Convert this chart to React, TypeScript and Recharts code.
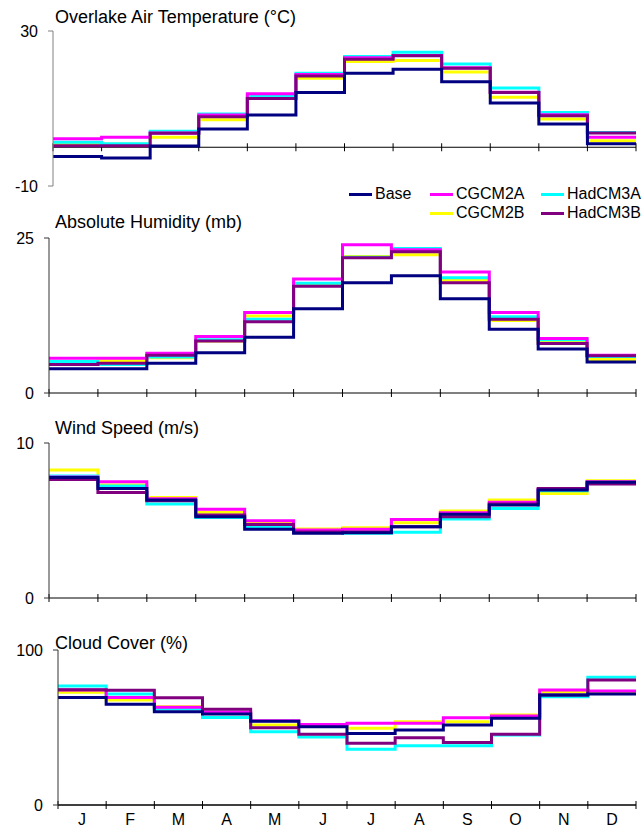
import React from 'react'
import { LineChart, Line, XAxis, YAxis, ReferenceLine } from 'recharts'

const months = ['J', 'F', 'M', 'A', 'M', 'J', 'J', 'A', 'S', 'O', 'N', 'D']

// draw order: later ones sit on top
const seriesKeys = ['CGCM2B', 'HadCM3A', 'CGCM2A', 'HadCM3B', 'Base']
const colors: Record<string, string> = {
  Base: '#000080',
  CGCM2A: '#ff00ff',
  CGCM2B: '#ffff00',
  HadCM3A: '#00ffff',
  HadCM3B: '#800080',
}

// Overlake air temperature (°C)
const tempBase = [-2.4, -2.8, 0.3, 4.7, 8.3, 14.1, 19.1, 20.1, 16.9, 11.4, 6.0, 0.9]
const tempCGCM2A = [2.2, 2.6, 3.7, 8.3, 13.8, 18.8, 23.1, 23.7, 20.5, 14.2, 8.4, 2.6]
const tempCGCM2B = [0.9, 0.8, 2.6, 7.1, 12.6, 17.8, 22.1, 22.4, 19.4, 12.9, 7.3, 1.7]
const tempHadCM3A = [1.3, 0.9, 4.1, 8.6, 13.3, 19.1, 23.4, 24.5, 21.5, 15.3, 9.0, 3.8]
const tempHadCM3B = [0.4, 0.4, 3.6, 7.9, 12.6, 18.4, 22.7, 23.6, 20.4, 14.1, 8.1, 3.7]

// absolute humidity (mb)
const humBase = [3.9, 3.9, 4.8, 6.5, 9.0, 13.6, 17.8, 18.9, 15.2, 10.3, 7.1, 5.0]
const humCGCM2A = [5.6, 5.6, 6.4, 9.1, 13.0, 18.4, 23.9, 23.1, 19.5, 13.0, 8.8, 6.1]
const humCGCM2B = [5.0, 5.2, 5.7, 8.4, 12.4, 17.6, 22.0, 22.3, 18.2, 11.7, 8.2, 5.4]
const humHadCM3A = [5.1, 4.6, 5.8, 8.6, 11.9, 17.7, 21.9, 23.3, 18.6, 12.3, 8.6, 5.9]
const humHadCM3B = [4.6, 4.8, 6.1, 8.4, 11.5, 17.2, 21.8, 22.8, 17.8, 11.9, 8.0, 6.0]

// wind speed (m/s)
const windBase = [7.78, 7.07, 6.32, 5.25, 4.43, 4.17, 4.21, 4.6, 5.4, 6.0, 6.97, 7.46]
const windCGCM2A = [7.8, 7.5, 6.4, 5.72, 4.99, 4.39, 4.43, 5.07, 5.5, 6.17, 7.0, 7.5]
const windCGCM2B = [8.26, 7.29, 6.49, 5.53, 4.86, 4.45, 4.54, 4.86, 5.61, 6.32, 6.75, 7.57]
const windHadCM3A = [7.87, 7.22, 6.06, 5.2, 4.6, 4.32, 4.17, 4.24, 5.1, 5.78, 6.92, 7.46]
const windHadCM3B = [7.65, 6.8, 6.28, 5.35, 4.75, 4.26, 4.26, 4.6, 5.25, 6.06, 7.07, 7.35]

// cloud cover (%)
const cloudBase = [69.4, 65.0, 60.2, 58.7, 54.0, 50.5, 46.2, 48.4, 51.6, 55.9, 70.9, 71.6]
const cloudCGCM2A = [74.2, 69.4, 63.0, 59.8, 54.4, 52.0, 52.7, 52.7, 56.3, 57.4, 74.2, 73.5]
const cloudCGCM2B = [72.7, 67.7, 63.4, 59.0, 51.6, 51.0, 49.5, 53.7, 53.7, 58.0, 73.1, 72.9]
const cloudHadCM3A = [76.7, 71.6, 62.0, 56.5, 47.3, 43.9, 35.9, 38.3, 38.3, 45.2, 69.9, 82.4]
const cloudHadCM3B = [74.4, 74.0, 69.2, 61.7, 49.9, 45.6, 39.8, 43.4, 40.4, 45.6, 70.9, 80.7]

const W = 644
const H = 829
const PLOT_H = 155
const RIGHT = 636
const font = '"Liberation Sans", Arial, sans-serif'

const panels = [
  {
    title: 'Overlake Air Temperature (°C)',
    min: -10, max: 30, top: 31, axisX: 53, titleTop: 8, yAxisColor: '#808080', labels: false,
    values: { Base: tempBase, CGCM2A: tempCGCM2A, CGCM2B: tempCGCM2B, HadCM3A: tempHadCM3A, HadCM3B: tempHadCM3B },
  },
  {
    title: 'Absolute Humidity (mb)',
    min: 0, max: 25, top: 238, axisX: 49, titleTop: 213, yAxisColor: '#333', labels: false,
    values: { Base: humBase, CGCM2A: humCGCM2A, CGCM2B: humCGCM2B, HadCM3A: humHadCM3A, HadCM3B: humHadCM3B },
  },
  {
    title: 'Wind Speed (m/s)',
    min: 0, max: 10, top: 443, axisX: 49, titleTop: 419, yAxisColor: '#333', labels: false,
    values: { Base: windBase, CGCM2A: windCGCM2A, CGCM2B: windCGCM2B, HadCM3A: windHadCM3A, HadCM3B: windHadCM3B },
  },
  {
    title: 'Cloud Cover (%)',
    min: 0, max: 100, top: 650, axisX: 58, titleTop: 634, yAxisColor: '#333', labels: true,
    values: { Base: cloudBase, CGCM2A: cloudCGCM2A, CGCM2B: cloudCGCM2B, HadCM3A: cloudHadCM3A, HadCM3B: cloudHadCM3B },
  },
]

const boundaries = months.map((_, i) => i).concat([months.length])
const centers = months.map((_, i) => i + 0.5)

// one row per month boundary, the last one repeats December so the step reaches the end
function buildRows(values: Record<string, number[]>) {
  return boundaries.map((b) => {
    const row: any = { x: b }
    seriesKeys.forEach((k) => {
      row[k] = values[k][Math.min(b, months.length - 1)]
    })
    return row
  })
}

const legendRows = [
  [
    { key: 'Base', line: 349 },
    { key: 'CGCM2A', line: 430 },
    { key: 'HadCM3A', line: 541 },
  ],
  [
    { key: 'CGCM2B', line: 430 },
    { key: 'HadCM3B', line: 541 },
  ],
]
const legendTops = [186, 205]

const Panel = ({ p }: { p: any }) => {
  const data = buildRows(p.values)
  const half = (4 / PLOT_H) * (p.max - p.min)
  const axisVal = p.min < 0 ? 0 : p.min
  const xAxisH = p.labels ? 20 : 0
  return (
    <div style={{ position: 'absolute', left: 0, top: 0 }}>
      <LineChart
        width={W}
        height={H}
        data={data}
        margin={{ top: p.top, right: W - RIGHT, left: 0, bottom: H - p.top - PLOT_H - xAxisH }}
      >
        <XAxis
          dataKey="x"
          type="number"
          domain={[0, 12]}
          ticks={centers}
          interval={0}
          hide={!p.labels}
          height={xAxisH}
          tickLine={false}
          tickSize={6}
          tickMargin={3}
          axisLine={{ stroke: '#000' }}
          tick={{ fill: '#000', fontSize: 16, fontFamily: font }}
          tickFormatter={(v: number) => months[Math.floor(v)]}
        />
        <YAxis
          type="number"
          domain={[p.min, p.max]}
          ticks={[p.min, p.max]}
          interval={0}
          allowDataOverflow
          width={p.axisX}
          tickSize={5}
          tickMargin={10}
          axisLine={{ stroke: p.yAxisColor }}
          tickLine={{ stroke: p.yAxisColor }}
          tick={{ fill: '#000', fontSize: 16, fontFamily: font }}
        />
        <ReferenceLine y={axisVal} stroke="#000" ifOverflow="visible" />
        {boundaries.map((b) => (
          <ReferenceLine
            key={'t' + b}
            segment={[{ x: b, y: axisVal - half }, { x: b, y: axisVal + half }]}
            stroke="#000"
            ifOverflow="visible"
          />
        ))}
        {seriesKeys.map((k) => (
          <Line
            key={k}
            type="stepAfter"
            dataKey={k}
            stroke={colors[k]}
            strokeWidth={3}
            dot={false}
            activeDot={false}
            isAnimationActive={false}
          />
        ))}
      </LineChart>
    </div>
  )
}

export default function App() {
  return (
    <div
      style={{
        position: 'absolute',
        left: 0,
        top: 0,
        width: W,
        height: H,
        background: '#fff',
        fontFamily: font,
        overflow: 'hidden',
      }}
    >
      {panels.map((p, i) => (
        <Panel key={i} p={p} />
      ))}
      {panels.map((p, i) => (
        <div
          key={'title' + i}
          style={{ position: 'absolute', left: 55, top: p.titleTop, fontSize: 18, lineHeight: '18px', color: '#000', whiteSpace: 'nowrap' }}
        >
          {p.title}
        </div>
      ))}
      {legendRows.map((row, r) =>
        row.map((item) => (
          <div key={item.key} style={{ position: 'absolute', left: item.line, top: legendTops[r], height: 16, display: 'flex', alignItems: 'center' }}>
            <div style={{ width: 23, height: 3, background: colors[item.key] }} />
            <span style={{ marginLeft: 3, fontSize: 16, lineHeight: '16px', color: '#000', whiteSpace: 'nowrap' }}>{item.key}</span>
          </div>
        ))
      )}
    </div>
  )
}
